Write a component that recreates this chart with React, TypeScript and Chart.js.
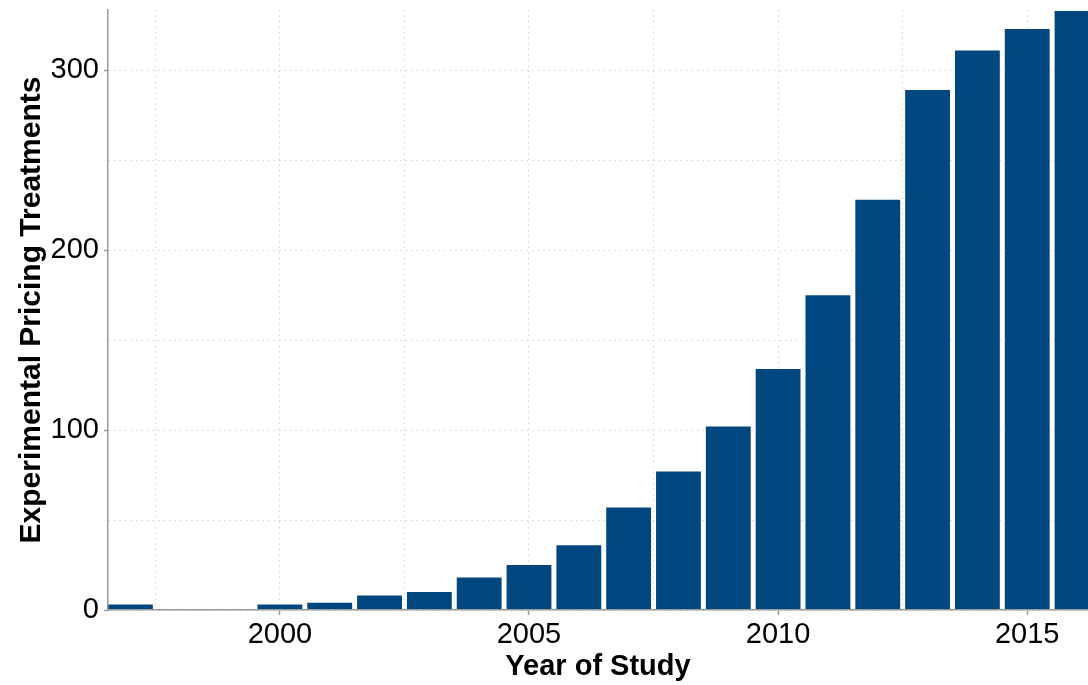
import React, { useEffect, useRef } from "react";
import { Chart, registerables } from "chart.js";

Chart.register(...registerables);

const years = [1997, 1998, 1999, 2000, 2001, 2002, 2003, 2004, 2005, 2006, 2007, 2008, 2009, 2010, 2011, 2012, 2013, 2014, 2015, 2016];
const treatments = [3, 0, 0, 3, 4, 8, 10, 18, 25, 36, 57, 77, 102, 134, 175, 228, 289, 311, 323, 333];

const xTickValues = [1997.5, 2000, 2002.5, 2005, 2007.5, 2010, 2012.5, 2015];
const xTickLabels = ["", "2000", "", "2005", "", "2010", "", "2015"];
const yTickValues = [0, 50, 100, 150, 200, 250, 300];
const yTickLabels = ["0", "", "100", "", "200", "", "300"];

const xMin = 1996.55;
const xMax = 2016.22;
const yMin = 0;
const yMax = 333.5;

const xTitle = "Year of Study";
const yTitle = "Experimental Pricing Treatments";

const FONT = "'Liberation Sans', Arial, Helvetica, sans-serif";
const BAR_COLOR = "#00467f";
const GRID_COLOR = "#d2d2d2";
const AXIS_COLOR = "#9a9a9a";

export default function App() {
  const ref = useRef<HTMLCanvasElement | null>(null);

  useEffect(() => {
    document.body.style.margin = "0";
    const canvas = ref.current;
    if (!canvas) return;
    const chart = new Chart(canvas, {
      type: "bar",
      data: {
        datasets: [
          {
            data: years.map((y, i) => ({ x: y, y: treatments[i] })),
            backgroundColor: BAR_COLOR,
            borderWidth: 0,
            barPercentage: 0.9,
            categoryPercentage: 1,
            clip: 0,
          } as any,
        ],
      },
      options: {
        responsive: false,
        animation: false,
        layout: { padding: { top: 10, right: 0, bottom: 0, left: 0 } },
        plugins: {
          legend: { display: false },
          tooltip: { enabled: false },
        },
        scales: {
          x: {
            type: "linear",
            min: xMin,
            max: xMax,
            offset: false,
            afterBuildTicks: (scale: any) => {
              scale.ticks = xTickValues.map((v) => ({ value: v }));
            },
            afterFit: (scale: any) => {
              scale.height = 75;
              scale.paddingLeft = 0;
              scale.paddingRight = 0;
            },
            ticks: {
              autoSkip: false,
              maxRotation: 0,
              padding: 3,
              color: "#000",
              font: { family: FONT, size: 29 },
              callback: (value: any) => {
                const i = xTickValues.indexOf(Number(value));
                return i >= 0 ? xTickLabels[i] : "";
              },
            },
            grid: {
              offset: false,
              color: GRID_COLOR,
              lineWidth: 1,
              drawTicks: true,
              tickLength: 5,
              tickWidth: 1.5,
              tickColor: (ctx: any) => {
                const v = ctx.tick ? ctx.tick.value : null;
                const i = xTickValues.indexOf(v);
                return i >= 0 && xTickLabels[i] !== "" ? AXIS_COLOR : "rgba(0,0,0,0)";
              },
            },
            border: { display: true, color: AXIS_COLOR, width: 1.5, dash: [1.5, 4], z: 1 },
            title: {
              display: true,
              text: xTitle,
              color: "#000",
              font: { family: FONT, size: 29, weight: "bold" },
              padding: { top: 0, bottom: 1 },
            },
          },
          y: {
            type: "linear",
            min: yMin,
            max: yMax,
            afterBuildTicks: (scale: any) => {
              scale.ticks = yTickValues.map((v) => ({ value: v }));
            },
            afterFit: (scale: any) => {
              scale.width = 108;
              scale.paddingTop = 0;
              scale.paddingBottom = 0;
            },
            ticks: {
              autoSkip: false,
              padding: 5,
              color: "#000",
              font: { family: FONT, size: 29 },
              callback: (value: any) => {
                const i = yTickValues.indexOf(Number(value));
                return i >= 0 ? yTickLabels[i] : "";
              },
            },
            grid: {
              color: GRID_COLOR,
              lineWidth: 1,
              drawTicks: true,
              tickLength: 4,
              tickWidth: 1.5,
              tickColor: (ctx: any) => {
                const v = ctx.tick ? ctx.tick.value : null;
                const i = yTickValues.indexOf(v);
                return i >= 0 && yTickLabels[i] !== "" ? AXIS_COLOR : "rgba(0,0,0,0)";
              },
            },
            border: { display: true, color: AXIS_COLOR, width: 1.5, dash: [1.5, 4], z: 1 },
            title: {
              display: true,
              text: yTitle,
              color: "#000",
              font: { family: FONT, size: 30, weight: "bold" },
              padding: { top: 14, bottom: 0 },
            },
          },
        },
      } as any,
    });
    return () => chart.destroy();
  }, []);

  return (
    <div style={{ width: 1088, height: 685, position: "relative" }}>
      <canvas ref={ref} width={1088} height={685} style={{ display: "block" }} />
    </div>
  );
}
